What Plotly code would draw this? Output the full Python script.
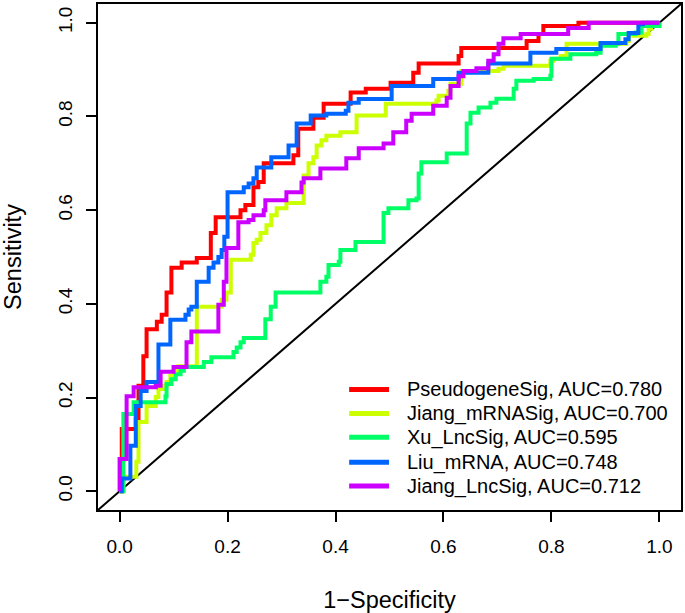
import plotly.graph_objects as go

# ROC curves (1-Specificity, Sensitivity)
names = ["PseudogeneSig, AUC=0.780", "Jiang_mRNASig, AUC=0.700", "Xu_LncSig, AUC=0.595",
         "Liu_mRNA, AUC=0.748", "Jiang_LncSig, AUC=0.712"]
colors = ["#FF0000", "#CCFF00", "#00FF66", "#0066FF", "#CC00FF"]

red_fpr = [0, 0.004, 0.030, 0.035, 0.044, 0.050, 0.069, 0.078, 0.087, 0.096, 0.115, 0.143, 0.169, 0.178,
           0.224, 0.233, 0.248, 0.257, 0.267, 0.322, 0.331, 0.359, 0.378, 0.428, 0.456, 0.502, 0.544, 0.554,
           0.628, 0.633, 0.754, 0.776, 0.785, 0.850, 1.0]
red_tpr = [0, 0.133, 0.154, 0.225, 0.288, 0.346, 0.362, 0.377, 0.424, 0.477, 0.488, 0.498, 0.551, 0.585,
           0.600, 0.611, 0.649, 0.660, 0.700, 0.717, 0.774, 0.797, 0.827, 0.851, 0.859, 0.872, 0.893, 0.913,
           0.929, 0.946, 0.961, 0.976, 0.993, 1.0, 1.0]

yel_fpr = [0, 0.007, 0.031, 0.035, 0.050, 0.067, 0.072, 0.081, 0.087, 0.094, 0.100, 0.109, 0.143, 0.189,
           0.198, 0.206, 0.243, 0.248, 0.254, 0.261, 0.272, 0.281, 0.291, 0.309, 0.341, 0.350, 0.359, 0.365,
           0.374, 0.383, 0.409, 0.439, 0.493, 0.587, 0.591, 0.609, 0.613, 0.633, 0.702, 0.711, 0.798, 0.804,
           0.817, 0.828, 0.939, 0.943, 0.976, 0.980, 0.985, 1.0]
yel_tpr = [0, 0.031, 0.063, 0.148, 0.182, 0.201, 0.218, 0.225, 0.233, 0.246, 0.257, 0.267, 0.394, 0.409,
           0.424, 0.494, 0.505, 0.530, 0.537, 0.551, 0.568, 0.589, 0.604, 0.615, 0.674, 0.700, 0.713, 0.738,
           0.749, 0.759, 0.766, 0.802, 0.827, 0.834, 0.844, 0.855, 0.870, 0.897, 0.902, 0.908, 0.919, 0.923,
           0.929, 0.955, 0.961, 0.972, 0.976, 0.987, 0.997, 1.0]

grn_fpr = [0, 0.007, 0.026, 0.085, 0.087, 0.096, 0.104, 0.113, 0.119, 0.156, 0.170, 0.211, 0.217, 0.224,
           0.230, 0.270, 0.280, 0.289, 0.372, 0.383, 0.387, 0.406, 0.409, 0.437, 0.489, 0.498, 0.535, 0.550,
           0.554, 0.559, 0.606, 0.643, 0.650, 0.665, 0.687, 0.698, 0.730, 0.735, 0.767, 0.798, 0.800, 0.835,
           0.883, 0.891, 0.919, 0.924, 0.956, 0.967, 1.0]
grn_tpr = [0, 0.165, 0.190, 0.203, 0.229, 0.239, 0.250, 0.257, 0.265, 0.276, 0.286, 0.297, 0.307, 0.318,
           0.327, 0.367, 0.394, 0.424, 0.447, 0.458, 0.483, 0.490, 0.515, 0.532, 0.594, 0.604, 0.621, 0.625,
           0.678, 0.702, 0.721, 0.785, 0.808, 0.819, 0.829, 0.838, 0.859, 0.876, 0.880, 0.887, 0.923, 0.933,
           0.936, 0.951, 0.955, 0.976, 0.979, 0.993, 1.0]

blu_fpr = [0, 0.004, 0.020, 0.030, 0.039, 0.050, 0.072, 0.094, 0.122, 0.128, 0.133, 0.143, 0.165, 0.174,
           0.183, 0.189, 0.194, 0.200, 0.230, 0.239, 0.248, 0.254, 0.281, 0.313, 0.328, 0.354, 0.383, 0.419,
           0.424, 0.443, 0.504, 0.581, 0.628, 0.683, 0.761, 0.809, 0.891, 0.937, 0.943, 0.961, 0.970, 1.0]
blu_tpr = [0, 0.027, 0.097, 0.182, 0.214, 0.233, 0.313, 0.366, 0.377, 0.388, 0.394, 0.447, 0.477, 0.488,
           0.500, 0.515, 0.543, 0.638, 0.649, 0.657, 0.668, 0.691, 0.713, 0.738, 0.785, 0.802, 0.806, 0.812,
           0.829, 0.837, 0.865, 0.880, 0.893, 0.913, 0.936, 0.944, 0.957, 0.965, 0.978, 0.997, 1.0, 1.0]

pur_fpr = [0, 0, 0.013, 0.026, 0.067, 0.076, 0.100, 0.124, 0.133, 0.183, 0.193, 0.198, 0.220, 0.239,
           0.248, 0.267, 0.270, 0.309, 0.337, 0.341, 0.372, 0.420, 0.443, 0.489, 0.507, 0.531, 0.541, 0.581,
           0.606, 0.613, 0.628, 0.637, 0.661, 0.683, 0.693, 0.702, 0.711, 0.743, 0.831, 0.869, 1.0]
pur_tpr = [0, 0.069, 0.203, 0.222, 0.225, 0.255, 0.265, 0.318, 0.341, 0.398, 0.447, 0.519, 0.574, 0.579,
           0.589, 0.600, 0.621, 0.638, 0.659, 0.668, 0.689, 0.711, 0.732, 0.742, 0.766, 0.791, 0.806, 0.823,
           0.840, 0.865, 0.886, 0.897, 0.903, 0.919, 0.933, 0.955, 0.967, 0.976, 0.989, 1.0, 1.0]

tick_vals = [0, 0.2, 0.4, 0.6, 0.8, 1.0]
tick_text = ["0.0", "0.2", "0.4", "0.6", "0.8", "1.0"]

series = [(red_fpr, red_tpr), (yel_fpr, yel_tpr), (grn_fpr, grn_tpr), (blu_fpr, blu_tpr), (pur_fpr, pur_tpr)]

FONT = "Liberation Sans, Arial, Helvetica, sans-serif"
W, H = 685, 613
ML, MR, MT, MB = 98, 2, 3, 102
PW, PH = W - ML - MR, H - MT - MB

fig = go.Figure()
for (fx, ty), name, col in zip(series, names, colors):
    fig.add_trace(go.Scatter(x=fx, y=ty, mode="lines", name=name, showlegend=False,
                             line=dict(color=col, width=4, shape="hv")))

# diagonal reference line (abline 0,1) across the whole plot region
fig.add_shape(type="line", xref="x domain", yref="y domain", x0=0, y0=0, x1=1, y1=1,
              line=dict(color="black", width=2), layer="below")

# legend drawn as key lines + text (no box, like R's bty="n")
key_x0, key_x1, text_x = 350, 390, 406
row_y = [390, 414, 438, 463, 487]
for name, col, py in zip(names, colors, row_y):
    yp = (H - MB - py) / PH
    fig.add_shape(type="line", xref="paper", yref="paper",
                  x0=(key_x0 - ML) / PW, x1=(key_x1 - ML) / PW, y0=yp, y1=yp,
                  line=dict(color=col, width=5))
    fig.add_annotation(xref="paper", yref="paper", x=(text_x - ML) / PW, y=yp,
                       xanchor="left", yanchor="middle", text=name, showarrow=False,
                       font=dict(family=FONT, size=20, color="black"))

axis_common = dict(range=[-0.04, 1.04], tickvals=tick_vals, ticktext=tick_text,
                   showgrid=False, zeroline=False, showline=True, mirror=True,
                   linecolor="black", linewidth=2, ticks="outside", ticklen=10,
                   tickwidth=2, tickcolor="black",
                   tickfont=dict(family=FONT, size=19, color="black"))

fig.update_layout(
    width=W, height=H,
    margin=dict(l=ML, r=MR, t=MT, b=MB),
    paper_bgcolor="white", plot_bgcolor="white",
    font=dict(family=FONT, color="black"),
    xaxis=dict(**axis_common, ticklabelstandoff=8,
               title=dict(text="1−Specificity", font=dict(family=FONT, size=23.5), standoff=38)),
    yaxis=dict(**axis_common, tickangle=-90, ticklabelstandoff=6,
               title=dict(text="Sensitivity", font=dict(family=FONT, size=23.5), standoff=33)),
    showlegend=False,
)

fig.write_html("out.html", config={"displayModeBar": False},
               post_script="document.body.style.margin='0px';")
